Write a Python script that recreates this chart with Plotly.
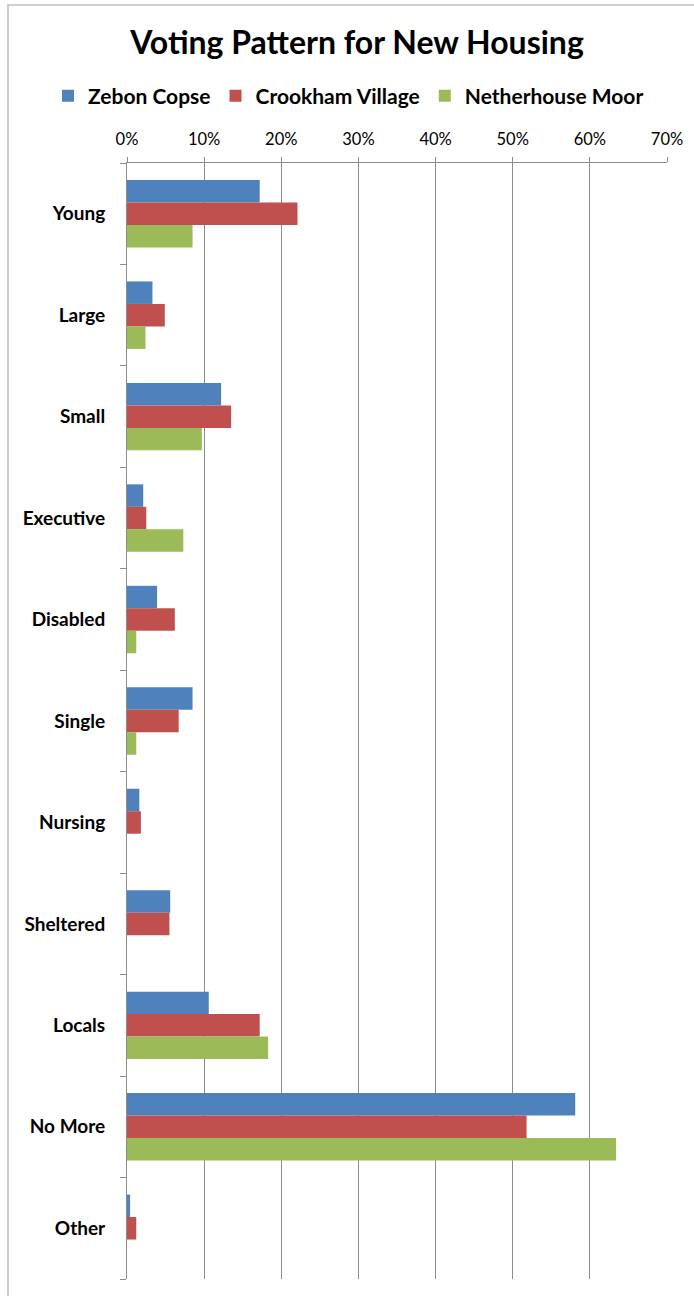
import plotly.graph_objects as go

categories = ["Young", "Large", "Small", "Executive", "Disabled", "Single",
              "Nursing", "Sheltered", "Locals", "No More", "Other"]
zebon_copse = [0.172, 0.033, 0.122, 0.021, 0.039, 0.085, 0.016, 0.056, 0.106, 0.581, 0.004]
crookham_village = [0.221, 0.049, 0.135, 0.025, 0.062, 0.067, 0.018, 0.055, 0.172, 0.518, 0.012]
netherhouse_moor = [0.085, 0.024, 0.097, 0.073, 0.012, 0.012, 0.0, 0.0, 0.183, 0.634, 0.0]
series_names = ["Zebon Copse", "Crookham Village", "Netherhouse Moor"]
x_ticks = [0, 0.1, 0.2, 0.3, 0.4, 0.5, 0.6, 0.7]
x_tick_labels = ["0%", "10%", "20%", "30%", "40%", "50%", "60%", "70%"]

colors = ["#4F81BD", "#C0504D", "#9BBB59"]
FONT = "Lato, 'Open Sans', sans-serif"

PL, PR, PT, PB = 127, 667, 163, 1279
PW, PH = PR - PL, PB - PT

fig = go.Figure()
for name, vals, col in zip(series_names, [zebon_copse, crookham_village, netherhouse_moor], colors):
    fig.add_trace(go.Bar(
        y=categories, x=vals, name="<b>" + name + "</b>", orientation="h",
        marker=dict(color=col, line=dict(width=0)),
    ))

fig.update_layout(
    width=694, height=1296,
    margin=dict(l=PL, r=694 - PR, t=PT, b=1296 - PB, autoexpand=False),
    paper_bgcolor="white", plot_bgcolor="white",
    barmode="group", bargap=0.335, bargroupgap=0,
    font=dict(family=FONT, color="black"),
    title=dict(text="<b>Voting Pattern for New Housing</b>",
               x=357 / 694, xanchor="center", xref="container",
               y=1 - 43 / 1296, yanchor="middle",
               font=dict(size=32, family=FONT, color="black")),
    legend=dict(orientation="h", x=(48 - PL) / PW, xanchor="left",
                y=(PB - 96) / PH, yanchor="middle",
                font=dict(size=21, family=FONT, color="black"),
                traceorder="normal", bgcolor="rgba(0,0,0,0)"),
    showlegend=True,
)

fig.update_xaxes(
    side="top", range=[0, 0.7], tickvals=x_ticks, ticktext=x_tick_labels,
    showgrid=True, gridcolor="#8C8C8C", gridwidth=1,
    showline=True, linecolor="#8C8C8C", linewidth=1,
    ticks="outside", ticklen=5, tickcolor="#8C8C8C",
    tickfont=dict(size=16.5, family=FONT, color="black"),
    ticklabelstandoff=5,
    zeroline=False, fixedrange=True, automargin=False,
)
fig.update_yaxes(
    autorange="reversed", type="category",
    showgrid=False, showline=True, linecolor="#8C8C8C", linewidth=1,
    ticks="outside", ticklen=6, tickcolor="#8C8C8C", tickson="boundaries",
    tickfont=dict(size=19, family=FONT, color="black"),
    ticklabelstandoff=17, automargin=False,
    tickvals=categories, ticktext=["<b>" + c + "</b>" for c in categories],
)

# outer chart border (Excel-style chart area frame)
fig.add_shape(type="rect", xref="paper", yref="paper",
              x0=(8 - PL) / PW, x1=(720 - PL) / PW,
              y0=(PB - 1320) / PH, y1=(PB - 5) / PH,
              line=dict(color="#BFBFBF", width=1.5), fillcolor="rgba(0,0,0,0)",
              layer="below")

fig.write_html("out.html",
               config={"displayModeBar": False},
               post_script="document.body.style.margin='0';document.body.style.padding='0';")
